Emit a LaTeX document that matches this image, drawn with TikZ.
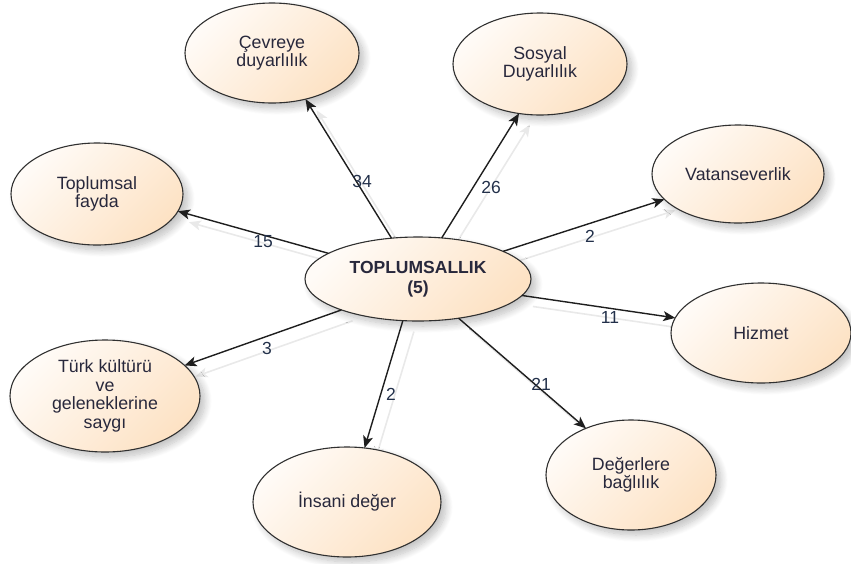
\documentclass[tikz,border=0pt]{standalone}
\usepackage{fontspec}
\setmainfont{Liberation Sans}
\usetikzlibrary{arrows.meta,shapes.geometric,shadows.blur}

\definecolor{peachlight}{HTML}{FFFBF7}
\definecolor{peachdark}{HTML}{FDE2C4}
\definecolor{edgec}{HTML}{303030}
\definecolor{inkc}{HTML}{28283C}
\definecolor{numc}{HTML}{22304A}
\definecolor{linkc}{HTML}{1E1E1E}
\definecolor{ghostc}{HTML}{E9E9E9}

\pgfdeclarelayer{ghosts}
\pgfsetlayers{ghosts,main}

\begin{document}
\begin{tikzpicture}[x=1pt,y=-1pt,
  bubble/.style={ellipse, draw=edgec, line width=1.1pt, inner sep=0pt, outer sep=0pt,
    top color=peachlight, bottom color=peachdark, shading angle=45,
    blur shadow={shadow xshift=5pt, shadow yshift=-5pt, shadow blur radius=7pt,
      shadow blur steps=12, shadow opacity=25},
    text=inkc, align=center, font=\fontsize{17.8}{18.5}\selectfont},
  link/.style={draw=linkc, line width=1.4pt, -{Stealth[length=12pt,width=10pt,inset=3pt]}},
  ghost/.style={draw=ghostc, line width=1.6pt, -{Stealth[length=12pt,width=10pt,inset=3pt]},
    transform canvas={xshift=11pt,yshift=-11pt}},
  count/.style={text=numc, font=\fontsize{17.5}{18}\selectfont}]

\useasboundingbox (0,0) rectangle (851,563);

% hub
\node[bubble, minimum width=226pt, minimum height=84pt,
  font=\bfseries\fontsize{17.5}{20}\selectfont] (hub) at (418,279) {TOPLUMSALLIK\\(5)};

% outer themes
\node[bubble, minimum width=174pt, minimum height=100pt] (cevre) at (272,53) {Çevreye\\duyarlılık};
\node[bubble, minimum width=174pt, minimum height=102pt] (sosyal) at (540,64) {Sosyal\\Duyarlılık};
\node[bubble, minimum width=172pt, minimum height=102pt] (fayda) at (97,194) {Toplumsal\\fayda};
\node[bubble, minimum width=172pt, minimum height=98pt] (vatan) at (738,174) {Vatanseverlik};
\node[bubble, minimum width=180pt, minimum height=100pt] (hizmet) at (761,333) {Hizmet};
\node[bubble, minimum width=190pt, minimum height=112pt] (turk) at (105,396) {Türk kültürü\\ve\\geleneklerine\\saygı};
\node[bubble, minimum width=188pt, minimum height=110pt] (insani) at (347,502) {İnsani değer};
\node[bubble, minimum width=170pt, minimum height=110pt] (deger) at (631,475) {Değerlere\\bağlılık};

% faint offset copies of the connectors
\begin{pgfonlayer}{ghosts}
  \draw[ghost] (hub.123) -- (cevre.306);
  \draw[ghost] (hub.60) -- (sosyal.247);
  \draw[ghost] (hub.164) -- (fayda.348);
  \draw[ghost] (hub.18) -- (vatan.199);
  \draw[ghost] (hub.-9.5) -- (hizmet.170);
  \draw[ghost] (hub.202) -- (turk.21);
  \draw[ghost] (hub.250) -- (insani.72);
  \draw[ghost] (hub.316) -- (deger.134);
\end{pgfonlayer}

% connectors
\draw[link] (hub.123) -- (cevre.306);
\draw[link] (hub.60) -- (sosyal.247);
\draw[link] (hub.164) -- (fayda.348);
\draw[link] (hub.18) -- (vatan.199);
\draw[link] (hub.-9.5) -- (hizmet.170);
\draw[link] (hub.202) -- (turk.21);
\draw[link] (hub.250) -- (insani.72);
\draw[link] (hub.316) -- (deger.134);

% counts
\node[count] (n34) at (362,181) {34};
\node[count] (n26) at (491,187) {26};
\node[count] (n15) at (263,242) {15};
\node[count] (n2a) at (590,236) {2};
\node[count] (n11) at (610,317) {11};
\node[count] (n3) at (267,348) {3};
\node[count] (n2b) at (391,394) {2};
\node[count] (n21) at (541,384) {21};
\end{tikzpicture}
\end{document}
